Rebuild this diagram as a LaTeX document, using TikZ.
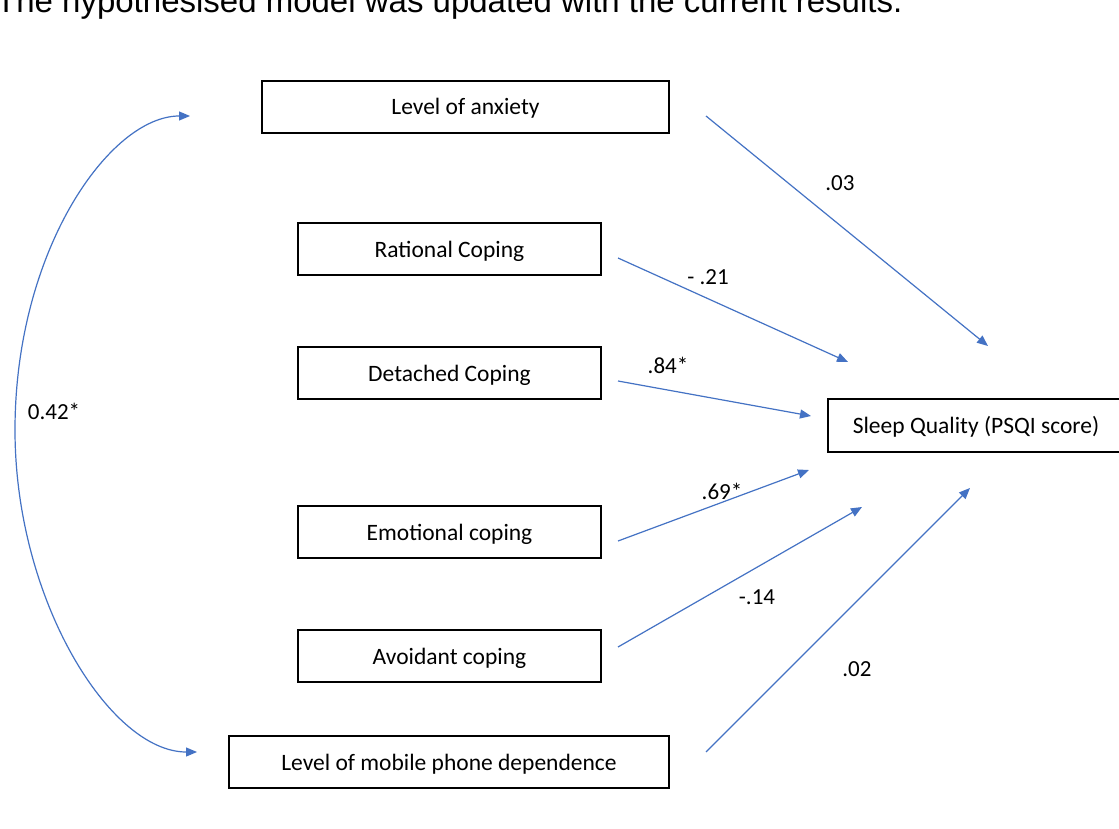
\documentclass[tikz,border=0pt]{standalone}
\usepackage{fontspec}
\setmainfont{Carlito}
\newfontfamily\arialfont{Liberation Sans}
\usetikzlibrary{arrows.meta}
\definecolor{arrowblue}{HTML}{4472C4}
\tikzset{
  box/.style={draw=black, line width=1.2pt, inner sep=0pt, text height=22pt, text depth=6pt, font=\fontsize{23.5}{26}\selectfont},
  path/.style={draw=arrowblue, line width=1.2pt, -{Triangle[length=11pt,width=9pt]}},
  coef/.style={font=\fontsize{23}{26}\selectfont, inner sep=0pt},
}
\begin{document}
\begin{tikzpicture}[x=1pt,y=-1pt]
\useasboundingbox (0,0) rectangle (1119,829);
\clip (0,0) rectangle (1119,829);
\fill[white] (0,0) rectangle (1119,829);
\node[anchor=base west, inner sep=0pt, font=\arialfont\fontsize{33}{36}\selectfont] (title) at (-4,13) {The hypothesised model was updated with the current results.};
% boxes
\node[box, minimum width=407pt, minimum height=52pt] (anx) at (465.5,107) {Level of anxiety};
\node[box, minimum width=303pt, minimum height=52pt] (rat) at (449.5,249) {Rational Coping};
\node[box, minimum width=303pt, minimum height=52pt] (det) at (449.5,373) {Detached Coping};
\node[box, minimum width=303pt, minimum height=52pt] (emo) at (449.5,532) {Emotional coping};
\node[box, minimum width=303pt, minimum height=52pt] (avo) at (449.5,656) {Avoidant coping};
\node[box, minimum width=440pt, minimum height=52pt] (mob) at (449,762) {Level of mobile phone dependence};
\node[box, minimum width=296pt, minimum height=53pt] (slp) at (976,425.5) {Sleep Quality (PSQI score)};
% connector ends
\coordinate (anxS) at (706,116);  \coordinate (anxE) at (988,346);
\coordinate (ratS) at (618,258);  \coordinate (ratE) at (848,362);
\coordinate (detS) at (618,381);  \coordinate (detE) at (811,416);
\coordinate (emoS) at (618,541);  \coordinate (emoE) at (809,470);
\coordinate (avoS) at (618,647);  \coordinate (avoE) at (862,507);
\coordinate (mobS) at (706,752);  \coordinate (mobE) at (970,488);
\coordinate (corA) at (190,116);  \coordinate (corM) at (15,430); \coordinate (corB) at (197,752);
% paths
\draw[path] (anxS) -- (anxE);
\draw[path] (ratS) -- (ratE);
\draw[path] (detS) -- (detE);
\draw[path] (emoS) -- (emoE);
\draw[path] (avoS) -- (avoE);
\draw[path] (mobS) -- (mobE);
\draw[path, {Triangle[length=11pt,width=9pt]}-{Triangle[length=11pt,width=9pt]}]
  (corA) .. controls (110,116) and (15,250) .. (corM)
         .. controls (15,600) and (110,752) .. (corB);
% coefficients
\node[coef] (c1) at (840,183) {.03};
\node[coef] (c2) at (708,277) {- .21};
\node[coef] (c3) at (668,365) {.84*};
\node[coef] (c4) at (722,491) {.69*};
\node[coef] (c5) at (757,597) {-.14};
\node[coef] (c6) at (857,669) {.02};
\node[coef] (c7) at (54,411) {0.42*};
\end{tikzpicture}
\end{document}
